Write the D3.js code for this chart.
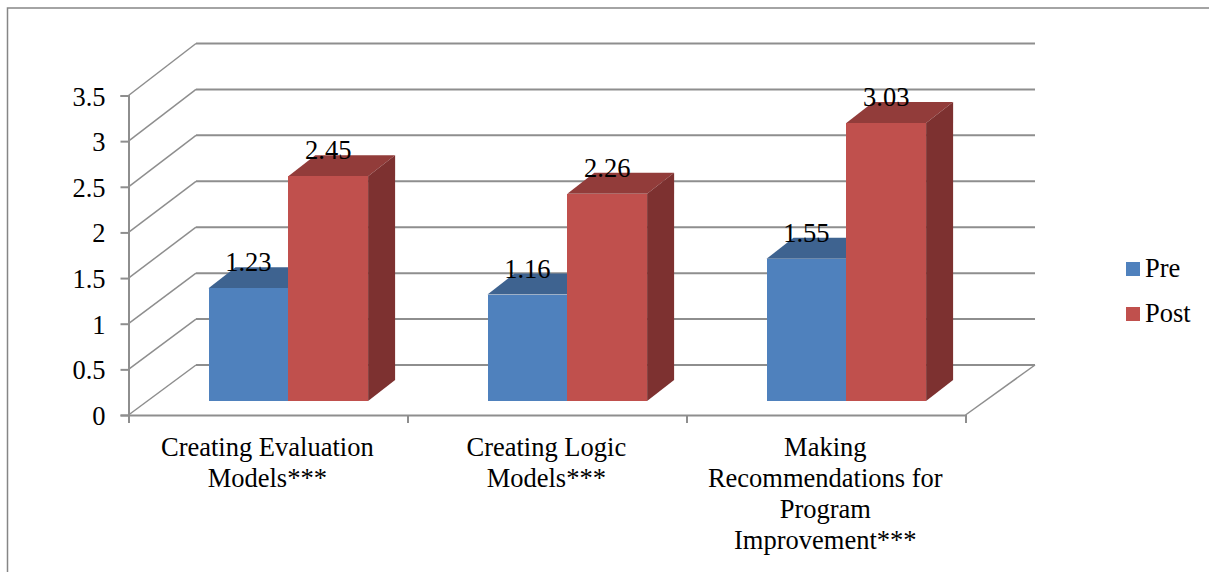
<!DOCTYPE html>
<html>
<head>
<meta charset="utf-8">
<script src="https://cdn.jsdelivr.net/npm/d3@7"></script>
<style>
  html, body { margin: 0; padding: 0; background: #fff; }
  svg { display: block; }
  text { font-family: "Liberation Serif", serif; font-size: 26.5px; fill: #000; }
</style>
</head>
<body>
<div id="chart"></div>
<script>
var categories = [
  ["Creating Evaluation", "Models***"],
  ["Creating Logic", "Models***"],
  ["Making", "Recommendations for", "Program", "Improvement***"]
];
var seriesNames = ["Pre", "Post"];
var pre = [1.23, 1.16, 1.55];
var post = [2.45, 2.26, 3.03];
var yTicks = [0, 0.5, 1, 1.5, 2, 2.5, 3, 3.5];

var colors = {
  Pre: { front: "#4f81bd", top: "#3e6390" },
  Post: { front: "#c0504d", top: "#923c3a", side: "#7d3130" }
};
var gridColor = "#8e8e8e";

var width = 1209, height = 572;

var svg = d3.select("#chart")
  .append("svg")
    .attr("width", width)
    .attr("height", height);

// chart frame, cut off by the right and bottom of the picture
svg.append("path")
  .attr("d", "M7.5,572V8H1209")
  .attr("fill", "none")
  .attr("stroke", "#868686")
  .attr("stroke-width", 1.5);

// front axis, back wall and bar heights all use their own projection
var y = d3.scaleLinear().domain([0, 3.5]).range([415, 95.5]);
var yBack = d3.scaleLinear().domain([0, 3.5]).range([365, 43.5]);
var yBar = d3.scaleLinear().domain([0, 3.5]).range([401, 80]);

var xEdge = d3.scaleLinear().domain([0, 3]).range([128.5, 965.5]);
var x0 = d3.scaleBand().domain(d3.range(categories.length)).range([128.5, 965.5]);
var x1 = d3.scaleBand().domain(seriesNames).range([80, 239.6]);

var backLeft = 196, backRight = 1035;
var depthX = 27, depthY = 21;

// back wall gridlines
svg.append("g").selectAll("line")
  .data(yTicks)
  .join("line")
    .attr("x1", backLeft)
    .attr("x2", backRight)
    .attr("y1", function(d) { return yBack(d) })
    .attr("y2", function(d) { return yBack(d) })
    .attr("stroke", gridColor)
    .attr("stroke-width", 2);

// side wall lines
svg.append("g").selectAll("line")
  .data(yTicks)
  .join("line")
    .attr("x1", xEdge(0))
    .attr("x2", backLeft)
    .attr("y1", function(d) { return y(d) })
    .attr("y2", function(d) { return yBack(d) })
    .attr("stroke", gridColor)
    .attr("stroke-width", 1.5);

// floor right edge
svg.append("line")
  .attr("x1", xEdge(3))
  .attr("x2", backRight)
  .attr("y1", y(0))
  .attr("y2", yBack(0))
  .attr("stroke", gridColor)
  .attr("stroke-width", 1.5);

// axes
var yAxis = svg.append("g")
  .attr("transform", "translate(" + xEdge(0) + ",0)")
  .call(d3.axisLeft(y).tickValues(yTicks).tickSize(8).tickPadding(15).tickFormat(function(d) { return d }));

var xAxis = svg.append("g")
  .attr("transform", "translate(0," + y(0) + ")")
  .call(d3.axisBottom(xEdge).ticks(3).tickSize(8).tickFormat(""));

svg.selectAll(".domain, .tick line")
  .attr("stroke", gridColor)
  .attr("stroke-width", 2);
yAxis.selectAll("text")
  .attr("dy", "0.36em")
  .style("font-size", "26.5px")
  .style("font-family", '"Liberation Serif", serif')
  .attr("fill", "#000");

// bars
var rows = [];
categories.forEach(function(c, i) {
  rows.push({ cat: i, series: "Pre", value: pre[i] });
  rows.push({ cat: i, series: "Post", value: post[i] });
});

var bar = svg.append("g").selectAll("g")
  .data(rows)
  .join("g")
    .attr("transform", function(d) { return "translate(" + (x0(d.cat) + x1(d.series)) + ",0)" });

bar.append("path")
  .attr("fill", function(d) { return colors[d.series].top })
  .attr("d", function(d) {
    var t = yBar(d.value), w = x1.bandwidth();
    return "M0," + t + "L" + depthX + "," + (t - depthY) + "H" + (w + depthX) + "L" + w + "," + t + "Z";
  });

bar.filter(function(d) { return d.series == "Post" }).append("path")
  .attr("fill", colors.Post.side)
  .attr("d", function(d) {
    var t = yBar(d.value), b = yBar(0), w = x1.bandwidth();
    return "M" + w + "," + t + "L" + (w + depthX) + "," + (t - depthY) + "V" + (b - depthY) + "L" + w + "," + b + "Z";
  });

bar.append("rect")
  .attr("x", 0)
  .attr("width", x1.bandwidth())
  .attr("y", function(d) { return yBar(d.value) })
  .attr("height", function(d) { return yBar(0) - yBar(d.value) })
  .attr("fill", function(d) { return colors[d.series].front })
  .attr("shape-rendering", "crispEdges");

// value labels go over all the bars
svg.append("g").selectAll("text")
  .data(rows)
  .join("text")
    .attr("x", function(d) { return x0(d.cat) + x1(d.series) + x1.bandwidth() / 2 })
    .attr("y", function(d) { return yBar(d.value) - 17 })
    .attr("text-anchor", "middle")
    .text(function(d) { return d.value });

// category labels
var catLabel = svg.append("g").selectAll("text")
  .data(categories)
  .join("text")
    .attr("text-anchor", "middle");

catLabel.selectAll("tspan")
  .data(function(d, i) { return d.map(function(s, k) { return { s: s, k: k, cat: i } }) })
  .join("tspan")
    .attr("x", function(d) { return x0(d.cat) + x0.bandwidth() / 2 - 0.7 })
    .attr("y", function(d) { return 455.5 + d.k * 31 })
    .text(function(d) { return d.s });

// legend
var legend = svg.append("g").selectAll("g")
  .data(seriesNames)
  .join("g")
    .attr("transform", function(d, i) { return "translate(1126," + (262 + i * 45) + ")" });

legend.append("rect")
  .attr("width", 14)
  .attr("height", 14)
  .attr("fill", function(d) { return colors[d].front });

legend.append("text")
  .attr("x", 19)
  .attr("y", 15)
  .text(function(d) { return d });
</script>
</body>
</html>
